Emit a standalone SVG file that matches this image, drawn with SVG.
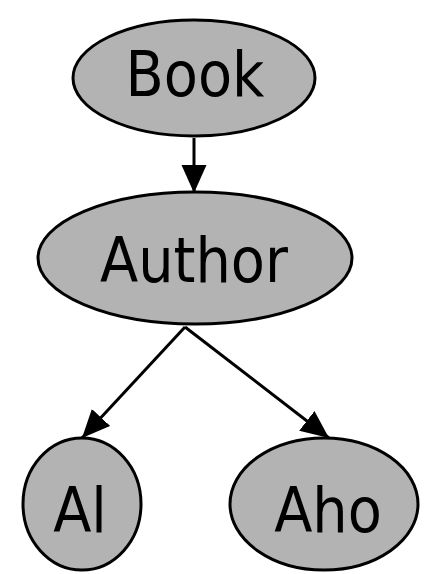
<svg xmlns="http://www.w3.org/2000/svg" width="437" height="574" viewBox="0 0 437 574">
  <style>
    .node ellipse { fill: #b3b3b3; stroke: #000; stroke-width: 3; }
    .node text { font-family: "DejaVu Sans Condensed", "DejaVu Sans", sans-serif; font-stretch: condensed; font-size: 62px; fill: #000; text-anchor: middle; }
    .edge { stroke: #000; stroke-width: 3; fill: none; marker-end: url(#arrow); }
  </style>
  <defs>
    <marker id="arrow" markerUnits="userSpaceOnUse" markerWidth="32" markerHeight="32" refX="28" refY="12.5" orient="auto">
      <path d="M0,0 L28,12.5 L0,25 Z" fill="#000"/>
    </marker>
  </defs>
  <rect width="437" height="574" fill="#fff"/>
  <g id="edges">
    <line class="edge" x1="194" y1="138" x2="194" y2="193"/>
    <line class="edge" x1="185" y1="327" x2="82" y2="438"/>
    <line class="edge" x1="185" y1="327" x2="329" y2="438"/>
  </g>
  <g id="node-book" class="node">
    <ellipse cx="194" cy="78" rx="121" ry="58"/>
    <text x="195" y="96">Book</text>
  </g>
  <g id="node-author" class="node">
    <ellipse cx="195" cy="258" rx="157" ry="66"/>
    <text x="194" y="282">Author</text>
  </g>
  <g id="node-al" class="node">
    <ellipse cx="82" cy="504" rx="59" ry="66"/>
    <text x="80" y="532">Al</text>
  </g>
  <g id="node-aho" class="node">
    <ellipse cx="324" cy="504" rx="94" ry="66"/>
    <text x="328" y="532">Aho</text>
  </g>
</svg>
